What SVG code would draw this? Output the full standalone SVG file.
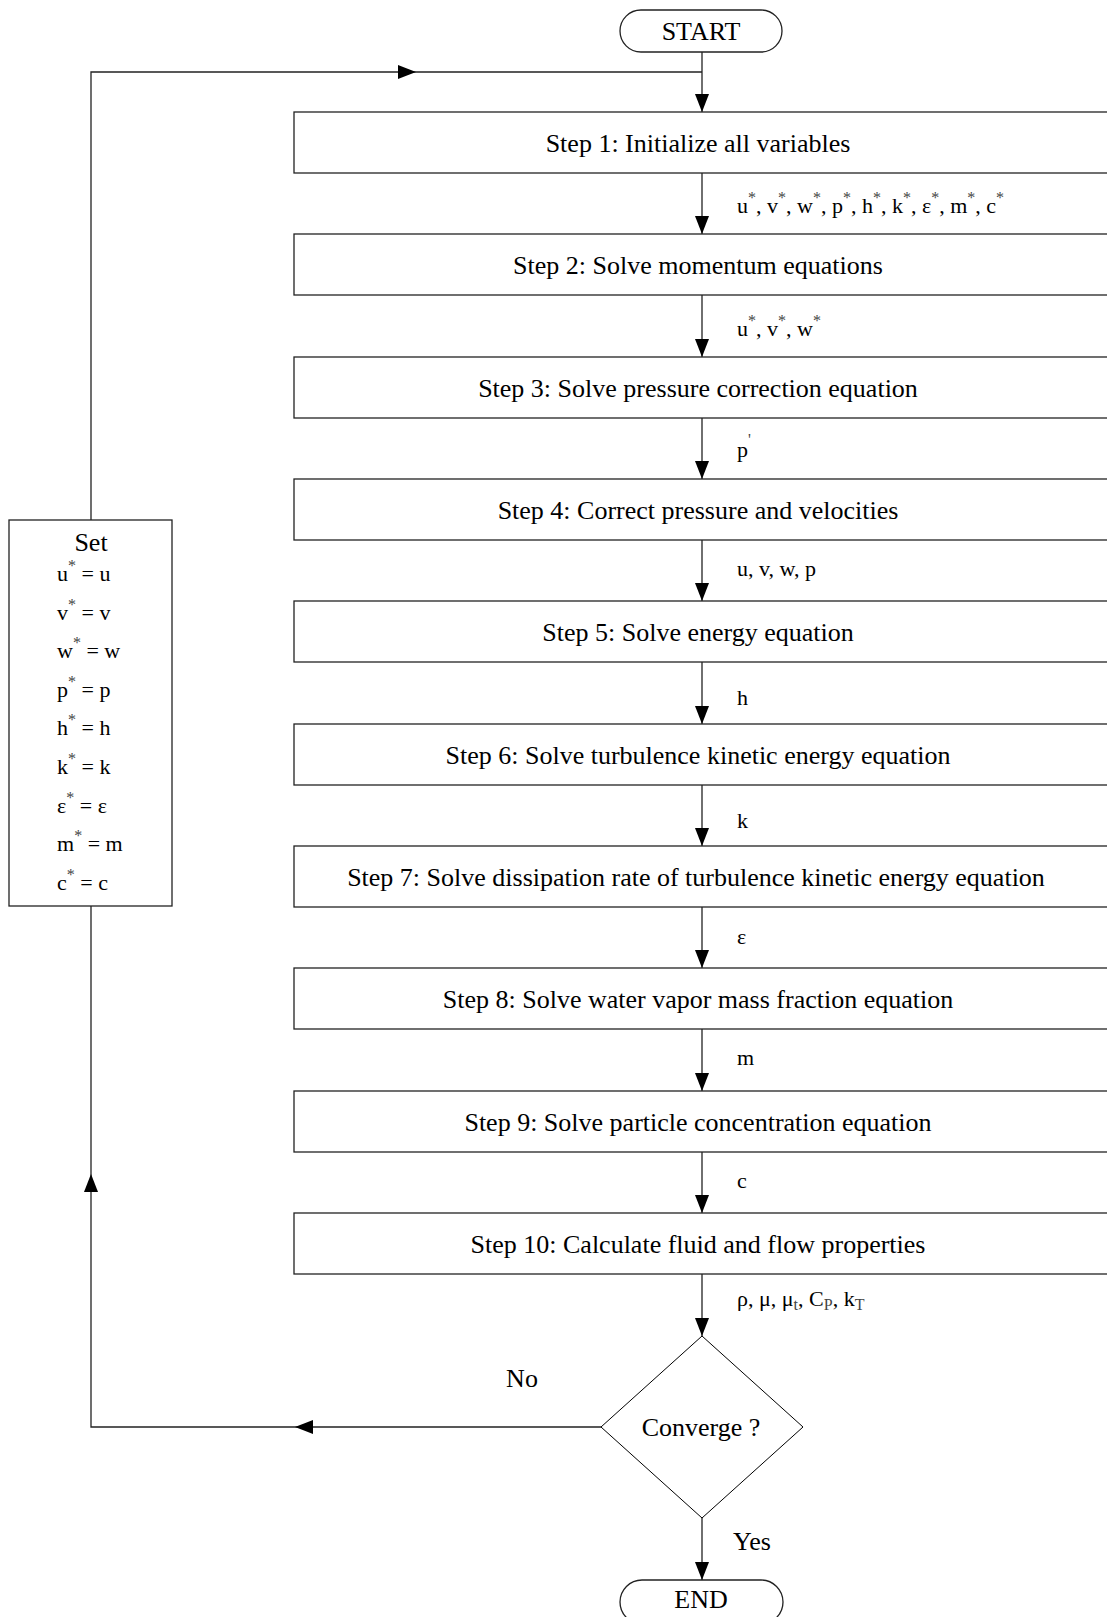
<svg xmlns="http://www.w3.org/2000/svg" width="1107" height="1617" viewBox="0 0 1107 1617">
<style>
.box{fill:#fff;stroke:#222;stroke-width:1.3}
.ln{fill:none;stroke:#222;stroke-width:1.3}
.t{font-family:"Liberation Serif","Times New Roman",serif;font-size:26px;fill:#000;text-anchor:middle}
.lb{font-family:"Liberation Serif","Times New Roman",serif;font-size:22px;fill:#000}
.se{font-family:"Liberation Serif","Times New Roman",serif;font-size:22px;fill:#000}
.sup{font-size:16px;fill:#444}
.ah{fill:#000}
</style>
<defs>
<marker id="arrd" markerUnits="userSpaceOnUse" markerWidth="18" markerHeight="14" viewBox="0 0 18 14" refX="18" refY="7" orient="auto">
<path d="M0,0 L18,7 L0,14 Z" fill="#000"/>
</marker>
</defs>

<g id="connectors">
<line class="ln" x1="702" y1="52" x2="702" y2="112" marker-end="url(#arrd)"/>
<line class="ln" x1="702" y1="173" x2="702" y2="234" marker-end="url(#arrd)"/>
<line class="ln" x1="702" y1="295" x2="702" y2="357" marker-end="url(#arrd)"/>
<line class="ln" x1="702" y1="418" x2="702" y2="479" marker-end="url(#arrd)"/>
<line class="ln" x1="702" y1="540" x2="702" y2="601" marker-end="url(#arrd)"/>
<line class="ln" x1="702" y1="662" x2="702" y2="724" marker-end="url(#arrd)"/>
<line class="ln" x1="702" y1="785" x2="702" y2="846" marker-end="url(#arrd)"/>
<line class="ln" x1="702" y1="907" x2="702" y2="968" marker-end="url(#arrd)"/>
<line class="ln" x1="702" y1="1029" x2="702" y2="1091" marker-end="url(#arrd)"/>
<line class="ln" x1="702" y1="1152" x2="702" y2="1213" marker-end="url(#arrd)"/>
<line class="ln" x1="702" y1="1274" x2="702" y2="1336" marker-end="url(#arrd)"/>
<line class="ln" x1="702" y1="1518" x2="702" y2="1580" marker-end="url(#arrd)"/>
<polyline class="ln" points="91,520 91,72 702,72"/>
<polygon class="ah" points="416,72 398,65 398,79"/>
<polyline class="ln" points="601,1427 91,1427 91,906"/>
<polygon class="ah" points="295,1427 313,1420 313,1434"/>
<polygon class="ah" points="91,1174 84,1192 98,1192"/>
</g>

<g id="start">
<rect class="box" x="620" y="10" width="162" height="42" rx="21"/>
<text class="t" x="701" y="40">START</text>
</g>

<g id="step1"><rect class="box" x="294" y="112" width="830" height="61"/><text class="t" x="698" y="152">Step 1: Initialize all variables</text></g>
<g id="step2"><rect class="box" x="294" y="234" width="830" height="61"/><text class="t" x="698" y="274">Step 2: Solve momentum equations</text></g>
<g id="step3"><rect class="box" x="294" y="357" width="830" height="61"/><text class="t" x="698" y="397">Step 3: Solve pressure correction equation</text></g>
<g id="step4"><rect class="box" x="294" y="479" width="830" height="61"/><text class="t" x="698" y="519">Step 4: Correct pressure and velocities</text></g>
<g id="step5"><rect class="box" x="294" y="601" width="830" height="61"/><text class="t" x="698" y="641">Step 5: Solve energy equation</text></g>
<g id="step6"><rect class="box" x="294" y="724" width="830" height="61"/><text class="t" x="698" y="764">Step 6: Solve turbulence kinetic energy equation</text></g>
<g id="step7"><rect class="box" x="294" y="846" width="830" height="61"/><text class="t" x="696" y="886">Step 7: Solve dissipation rate of turbulence kinetic energy equation</text></g>
<g id="step8"><rect class="box" x="294" y="968" width="830" height="61"/><text class="t" x="698" y="1008">Step 8: Solve water vapor mass fraction equation</text></g>
<g id="step9"><rect class="box" x="294" y="1091" width="830" height="61"/><text class="t" x="698" y="1131">Step 9: Solve particle concentration equation</text></g>
<g id="step10"><rect class="box" x="294" y="1213" width="830" height="61"/><text class="t" x="698" y="1253">Step 10: Calculate fluid and flow properties</text></g>

<g id="labels">
<text class="lb" x="737" y="213">u<tspan class="sup" dy="-10">*</tspan><tspan dy="10">, v</tspan><tspan class="sup" dy="-10">*</tspan><tspan dy="10">, w</tspan><tspan class="sup" dy="-10">*</tspan><tspan dy="10">, p</tspan><tspan class="sup" dy="-10">*</tspan><tspan dy="10">, h</tspan><tspan class="sup" dy="-10">*</tspan><tspan dy="10">, k</tspan><tspan class="sup" dy="-10">*</tspan><tspan dy="10">, ε</tspan><tspan class="sup" dy="-10">*</tspan><tspan dy="10">, m</tspan><tspan class="sup" dy="-10">*</tspan><tspan dy="10">, c</tspan><tspan class="sup" dy="-10">*</tspan></text>
<text class="lb" x="737" y="336">u<tspan class="sup" dy="-10">*</tspan><tspan dy="10">, v</tspan><tspan class="sup" dy="-10">*</tspan><tspan dy="10">, w</tspan><tspan class="sup" dy="-10">*</tspan></text>
<text class="lb" x="737" y="457">p<tspan class="sup" dy="-12">'</tspan></text>
<text class="lb" x="737" y="576">u, v, w, p</text>
<text class="lb" x="737" y="705">h</text>
<text class="lb" x="737" y="828">k</text>
<text class="lb" x="737" y="944">ε</text>
<text class="lb" x="737" y="1065">m</text>
<text class="lb" x="737" y="1188">c</text>
<text class="lb" x="737" y="1306">ρ, μ, μ<tspan class="sup" dy="4">t</tspan><tspan dy="-4">, C</tspan><tspan class="sup" dy="4">P</tspan><tspan dy="-4">, k</tspan><tspan class="sup" dy="4">T</tspan></text>
</g>

<g id="set">
<rect class="box" x="9" y="520" width="163" height="386"/>
<text class="t" x="91" y="551">Set</text>
<text class="se" x="57" y="581">u<tspan class="sup" dy="-10">*</tspan><tspan dy="10"> = u</tspan></text>
<text class="se" x="57" y="620">v<tspan class="sup" dy="-10">*</tspan><tspan dy="10"> = v</tspan></text>
<text class="se" x="57" y="658">w<tspan class="sup" dy="-10">*</tspan><tspan dy="10"> = w</tspan></text>
<text class="se" x="57" y="697">p<tspan class="sup" dy="-10">*</tspan><tspan dy="10"> = p</tspan></text>
<text class="se" x="57" y="735">h<tspan class="sup" dy="-10">*</tspan><tspan dy="10"> = h</tspan></text>
<text class="se" x="57" y="774">k<tspan class="sup" dy="-10">*</tspan><tspan dy="10"> = k</tspan></text>
<text class="se" x="57" y="813">ε<tspan class="sup" dy="-10">*</tspan><tspan dy="10"> = ε</tspan></text>
<text class="se" x="57" y="851">m<tspan class="sup" dy="-10">*</tspan><tspan dy="10"> = m</tspan></text>
<text class="se" x="57" y="890">c<tspan class="sup" dy="-10">*</tspan><tspan dy="10"> = c</tspan></text>
</g>

<g id="converge">
<polygon points="702,1336 803,1427 702,1518 601,1427" fill="#fff" stroke="#000" stroke-width="1"/>
<text class="t" x="701" y="1436">Converge ?</text>
</g>
<text class="t" x="522" y="1387">No</text>
<text class="t" x="752" y="1550">Yes</text>

<g id="end">
<rect class="box" x="620" y="1580" width="163" height="44" rx="22"/>
<text class="t" x="701" y="1608">END</text>
</g>
</svg>
